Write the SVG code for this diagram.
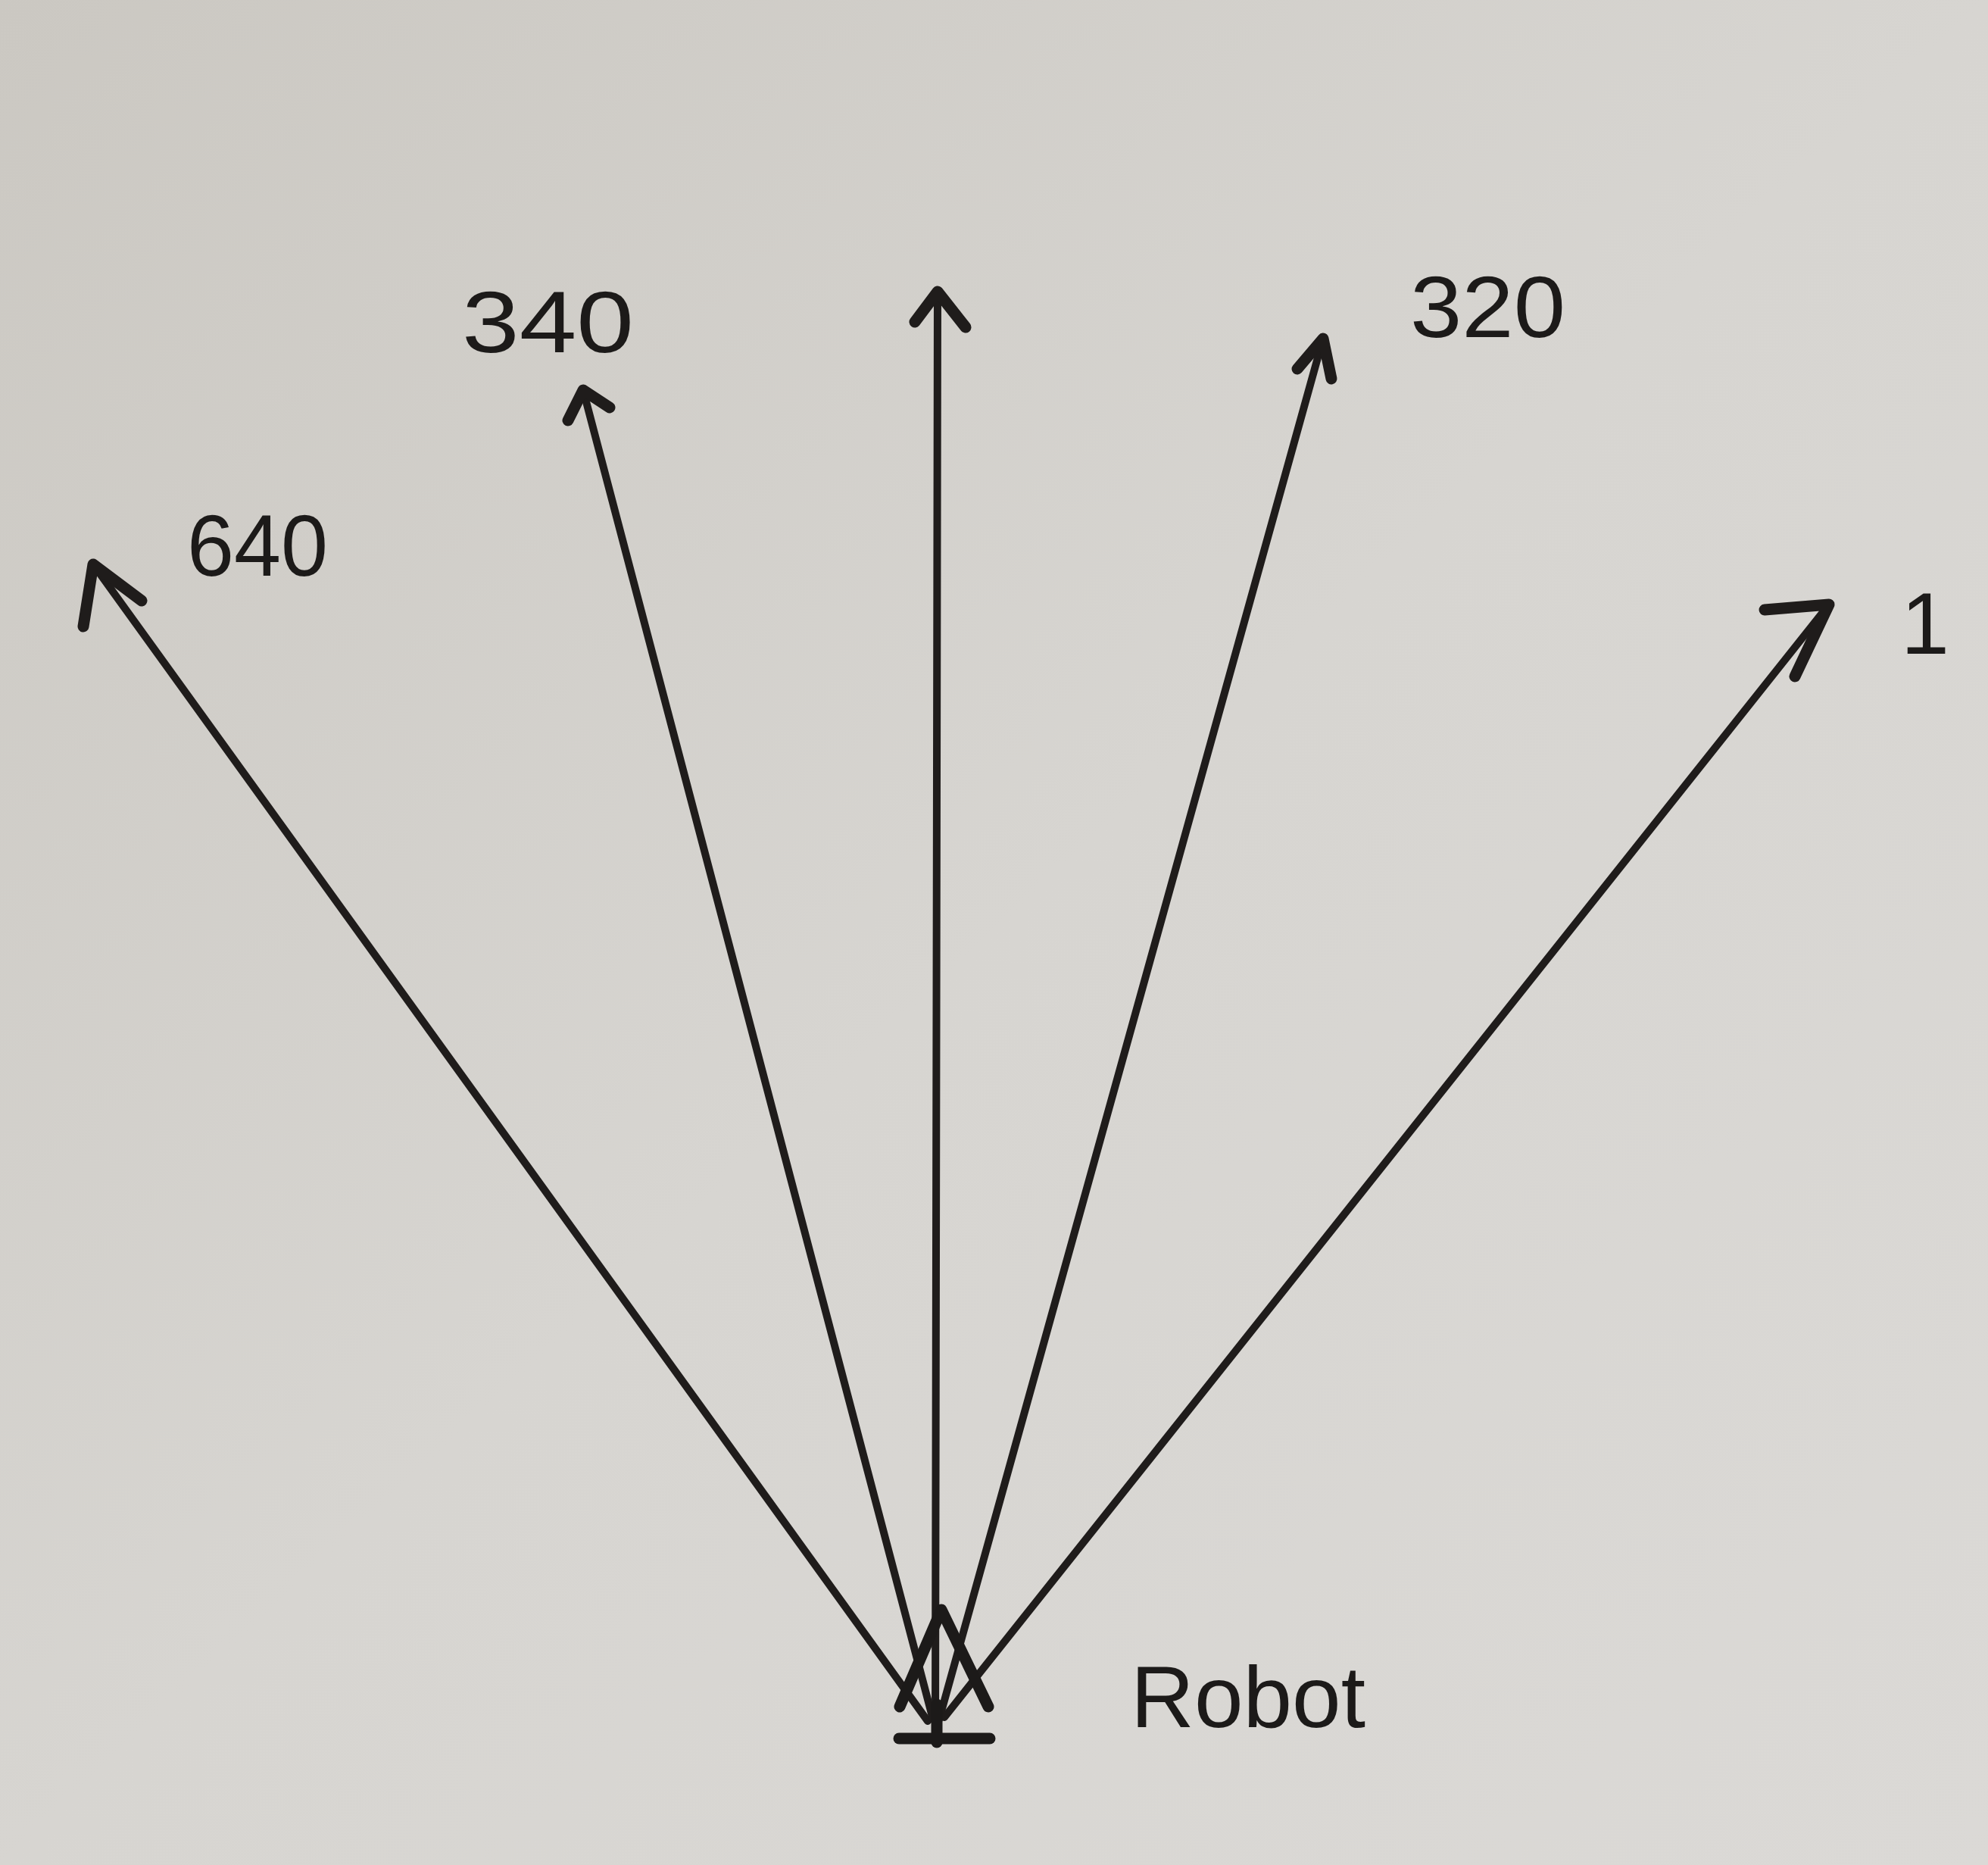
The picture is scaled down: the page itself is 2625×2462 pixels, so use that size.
<svg xmlns="http://www.w3.org/2000/svg" width="2625" height="2462" viewBox="0 0 2625 2462">
<defs>
<linearGradient id="paper" x1="0" y1="0" x2="1" y2="1">
<stop offset="0" stop-color="#cbc8c2"/>
<stop offset="0.5" stop-color="#d7d5d1"/>
<stop offset="1" stop-color="#dbd9d6"/>
</linearGradient>
<style>
.ray{stroke:#1f1c1b;stroke-width:10;fill:none;stroke-linecap:round}
.head{stroke:#1f1c1b;stroke-width:15;fill:none;stroke-linecap:round;stroke-linejoin:round}
.lbl{font-family:"Liberation Sans",Arial,sans-serif;font-size:115px;fill:#1c1a19}
.robot{stroke:#1c1a19;stroke-width:15;fill:none;stroke-linecap:round;stroke-linejoin:round}
</style>
</defs>
<rect width="2625" height="2462" fill="url(#paper)"/>
<g id="connectors">
<g id="ray-640"><line class="ray" x1="1225" y1="2272" x2="123" y2="745"/><polyline class="head" points="110,827 123,745 187,793"/></g>
<g id="ray-340"><line class="ray" x1="1232" y1="2270" x2="770" y2="515"/><polyline class="head" points="750,555 770,515 805,538"/></g>
<g id="ray-center"><line class="ray" x1="1235" y1="2290" x2="1238" y2="385"/><polyline class="head" points="1208,425 1238,385 1275,432"/></g>
<g id="ray-320"><line class="ray" x1="1240" y1="2270" x2="1747" y2="447"/><polyline class="head" points="1713,487 1747,447 1758,500"/></g>
<g id="ray-1"><line class="ray" x1="1247" y1="2267" x2="2415" y2="798"/><polyline class="head" points="2330,805 2415,798 2370,893"/></g>
</g>
<g id="robot">
<polyline class="robot" points="1188,2253 1243,2125 1305,2253"/>
<line class="robot" x1="1237" y1="2250" x2="1237" y2="2300"/>
<line class="robot" x1="1187" y1="2295" x2="1307" y2="2295"/>
<text class="lbl" x="1493" y="2280" font-size="150" textLength="310" lengthAdjust="spacingAndGlyphs">Robot</text>
</g>
<g id="label-640"><text class="lbl" x="247" y="760" textLength="186" lengthAdjust="spacingAndGlyphs">640</text></g>
<g id="label-340"><text class="lbl" x="610" y="465" textLength="227" lengthAdjust="spacingAndGlyphs">340</text></g>
<g id="label-320"><text class="lbl" x="1862" y="445" textLength="205" lengthAdjust="spacingAndGlyphs">320</text></g>
<g id="label-1"><text class="lbl" x="2510" y="863">1</text></g>
</svg>
